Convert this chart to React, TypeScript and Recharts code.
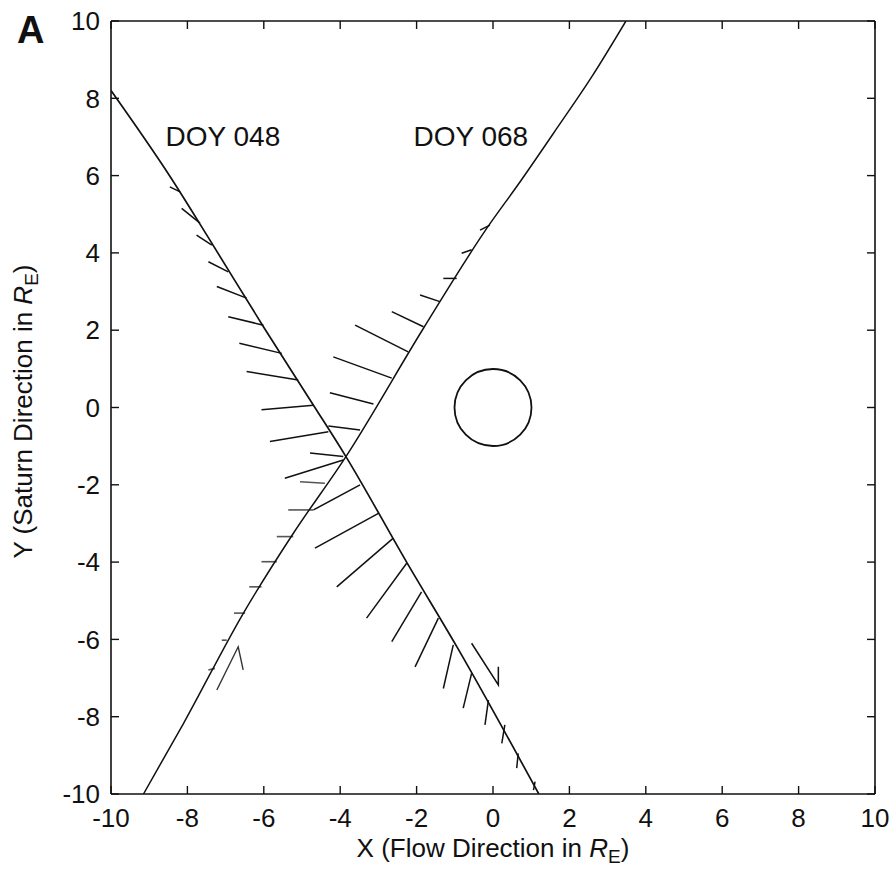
import React from 'react';
import { ScatterChart, Scatter, XAxis, YAxis, ReferenceLine, ReferenceDot } from 'recharts';

// Axis ticks
const xTicks = [-10, -8, -6, -4, -2, 0, 2, 4, 6, 8, 10];
const yTicks = [-10, -8, -6, -4, -2, 0, 2, 4, 6, 8, 10];

// Boundary curves (RE)
const doy048Boundary = [
  { x: -10, y: 8.2 }, { x: -8.45, y: 5.97 }, { x: -7.41, y: 4.33 }, { x: -6.01, y: 2.09 },
  { x: -4.7, y: 0.06 }, { x: -3.85, y: -1.27 }, { x: -2.25, y: -4.02 }, { x: -0.94, y: -6.2 },
  { x: 1.2, y: -10 },
];
const doy068Boundary = [
  { x: -9.15, y: -10 }, { x: -8.1, y: -8.17 }, { x: -6.54, y: -5.33 }, { x: -5.23, y: -3.26 },
  { x: -3.85, y: -1.27 }, { x: -1.82, y: 2.05 }, { x: -0.16, y: 4.64 }, { x: 0.71, y: 5.84 },
  { x: 1.67, y: 7.22 }, { x: 2.6, y: 8.58 }, { x: 3.48, y: 10 },
];

// Normal vectors: [x0, y0, x1, y1]
const doy048Normals = [
  [-8.19, 5.58, -8.46, 5.71],
  [-7.67, 4.77, -8.15, 5.15],
  [-7.36, 4.2, -7.76, 4.46],
  [-6.93, 3.51, -7.45, 3.77],
  [-6.45, 2.83, -7.23, 3.13],
  [-6.01, 2.13, -6.93, 2.35],
  [-5.53, 1.4, -6.64, 1.66],
  [-5.1, 0.71, -6.45, 0.93],
  [-4.7, 0.06, -6.06, -0.06],
  [-4.31, -0.63, -5.84, -0.88],
  [-3.92, -1.36, -5.45, -1.83],
  [-3.48, -2.0, -4.7, -2.65],
  [-3.0, -2.74, -4.66, -3.64],
  [-2.61, -3.38, -4.09, -4.64],
  [-2.26, -4.03, -3.31, -5.45],
  [-1.87, -4.77, -2.65, -6.06],
  [-1.43, -5.45, -2.04, -6.71],
  [-1.04, -6.14, -1.3, -7.27],
  [-0.56, -6.88, -0.78, -7.78],
  [-0.12, -7.57, -0.21, -8.21],
  [0.31, -8.21, 0.23, -8.69],
  [0.66, -8.95, 0.62, -9.33],
  [1.1, -9.68, 1.06, -9.9],
];
const doy068Normals = [
  [-0.08, 4.72, -0.34, 4.59],
  [-0.56, 4.08, -0.82, 3.99],
  [-0.95, 3.34, -1.3, 3.34],
  [-1.39, 2.74, -1.91, 2.91],
  [-1.82, 2.09, -2.65, 2.48],
  [-2.22, 1.44, -3.61, 2.13],
  [-2.65, 0.76, -4.18, 1.31],
  [-3.13, 0.09, -4.27, 0.38],
  [-3.48, -0.58, -4.31, -0.48],
  [-3.92, -1.27, -4.79, -1.18],
];
const doy068LowerNormals = [
  [-4.4, -1.96, -5.05, -1.92],
  [-4.7, -2.65, -5.36, -2.65],
  [-5.23, -3.34, -5.66, -3.34],
  [-5.66, -3.99, -6.06, -3.99],
  [-6.06, -4.64, -6.38, -4.64],
  [-6.49, -5.32, -6.78, -5.32],
  [-6.97, -6.02, -7.1, -6.02],
  [-7.28, -6.75, -7.45, -6.79],
];
const doy048Hook = [{ x: -0.56, y: -6.1 }, { x: 0.14, y: -7.18 }, { x: 0.14, y: -6.71 }];
const doy068Hook = [{ x: -7.23, y: -7.31 }, { x: -6.67, y: -6.19 }, { x: -6.54, y: -6.79 }];

// Annotations
const labelDoy048 = { x: -7.07, y: 7.02, text: 'DOY 048' };
const labelDoy068 = { x: -0.58, y: 7.02, text: 'DOY 068' };
const planet = { x: 0, y: 0 };

const FONT = '"Liberation Sans", Arial, Helvetica, sans-serif';
const INK = '#111';

const NoShape = () => <g />;
const NoTick = () => <g />;

const XTitle = (props: any) => {
  const vb = props.viewBox || {};
  const cx = vb.x + vb.width / 2;
  const y = vb.y + 63;
  return (
    <text x={cx} y={y} textAnchor="middle" fontFamily={FONT} fontSize={26} fill={INK}>
      X (Flow Direction in <tspan fontStyle="italic">R</tspan>
      <tspan dy={6} fontSize={19}>E</tspan>
      <tspan dy={-6}>)</tspan>
    </text>
  );
};

const YTitle = (props: any) => {
  const vb = props.viewBox || {};
  const x = 32;
  const cy = vb.y + vb.height / 2 + 4;
  return (
    <g>
      <text x={17} y={43} fontFamily={FONT} fontSize={38} fontWeight="bold" fill={INK}>A</text>
      <text x={x} y={cy} textAnchor="middle" transform={`rotate(-90, ${x}, ${cy})`} fontFamily={FONT} fontSize={26} fill={INK}>
        Y (Saturn Direction in <tspan fontStyle="italic">R</tspan>
        <tspan dy={6} fontSize={19}>E</tspan>
        <tspan dy={-6}>)</tspan>
      </text>
    </g>
  );
};

const tickStyle = { fontSize: 26, fontFamily: FONT, fill: INK };
const axisLineStyle = { stroke: INK, strokeWidth: 1.6 };
const tickLineStyle = { stroke: INK, strokeWidth: 1.4 };

export default function App() {
  return (
    <div style={{ width: 893, height: 875, background: '#fff' }}>
      <style>{`body { margin: 0; }`}</style>
      <ScatterChart width={893} height={875} margin={{ top: 20, right: 17, bottom: 8, left: 8 }}>
        <XAxis
          xAxisId="b"
          type="number"
          dataKey="x"
          domain={[-10, 10]}
          ticks={xTicks}
          allowDataOverflow
          height={73}
          tickSize={-8}
          tickMargin={23}
          tick={tickStyle}
          axisLine={axisLineStyle}
          tickLine={tickLineStyle}
          label={<XTitle />}
        />
        <XAxis
          xAxisId="t"
          orientation="top"
          type="number"
          dataKey="x"
          domain={[-10, 10]}
          ticks={xTicks}
          allowDataOverflow
          height={1}
          tickSize={-8}
          tick={NoTick}
          axisLine={axisLineStyle}
          tickLine={tickLineStyle}
        />
        <YAxis
          yAxisId="l"
          type="number"
          dataKey="y"
          domain={[-10, 10]}
          ticks={yTicks}
          allowDataOverflow
          width={103}
          tickSize={-8}
          tickMargin={19}
          tick={tickStyle}
          axisLine={axisLineStyle}
          tickLine={tickLineStyle}
          label={<YTitle />}
        />
        <YAxis
          yAxisId="r"
          orientation="right"
          type="number"
          dataKey="y"
          domain={[-10, 10]}
          ticks={yTicks}
          allowDataOverflow
          width={1}
          tickSize={-8}
          tick={NoTick}
          axisLine={axisLineStyle}
          tickLine={tickLineStyle}
        />

        <Scatter xAxisId="t" yAxisId="r" data={doy048Hook.slice(0, 1)} shape={NoShape} isAnimationActive={false} legendType="none" />

        <Scatter xAxisId="b" yAxisId="l" data={doy048Boundary} line={{ stroke: INK, strokeWidth: 1.7 }} lineType="joint" lineJointType="monotoneX" shape={NoShape} isAnimationActive={false} legendType="none" />
        <Scatter xAxisId="b" yAxisId="l" data={doy068Boundary} line={{ stroke: INK, strokeWidth: 1.5 }} lineType="joint" lineJointType="monotoneX" shape={NoShape} isAnimationActive={false} legendType="none" />
        <Scatter xAxisId="b" yAxisId="l" data={doy048Hook} line={{ stroke: INK, strokeWidth: 1.5 }} lineType="joint" shape={NoShape} isAnimationActive={false} legendType="none" />
        <Scatter xAxisId="b" yAxisId="l" data={doy068Hook} line={{ stroke: '#333', strokeWidth: 1.4 }} lineType="joint" shape={NoShape} isAnimationActive={false} legendType="none" />

        {doy048Normals.map((s, i) => (
          <ReferenceLine key={`a${i}`} xAxisId="b" yAxisId="l" segment={[{ x: s[0], y: s[1] }, { x: s[2], y: s[3] }]} stroke={INK} strokeWidth={1.5} />
        ))}
        {doy068Normals.map((s, i) => (
          <ReferenceLine key={`b${i}`} xAxisId="b" yAxisId="l" segment={[{ x: s[0], y: s[1] }, { x: s[2], y: s[3] }]} stroke={INK} strokeWidth={1.5} />
        ))}
        {doy068LowerNormals.map((s, i) => (
          <ReferenceLine key={`c${i}`} xAxisId="b" yAxisId="l" segment={[{ x: s[0], y: s[1] }, { x: s[2], y: s[3] }]} stroke="#555" strokeWidth={1.6} />
        ))}

        <ReferenceDot xAxisId="b" yAxisId="l" x={planet.x} y={planet.y} r={38.5} fill="none" stroke={INK} strokeWidth={1.8} />
        <ReferenceDot xAxisId="b" yAxisId="l" x={labelDoy048.x} y={labelDoy048.y} r={1} fill="none" stroke="none"
          label={{ value: labelDoy048.text, position: 'center', fontSize: 28, fontFamily: FONT, fill: INK }} />
        <ReferenceDot xAxisId="b" yAxisId="l" x={labelDoy068.x} y={labelDoy068.y} r={1} fill="none" stroke="none"
          label={{ value: labelDoy068.text, position: 'center', fontSize: 28, fontFamily: FONT, fill: INK }} />
      </ScatterChart>
    </div>
  );
}
